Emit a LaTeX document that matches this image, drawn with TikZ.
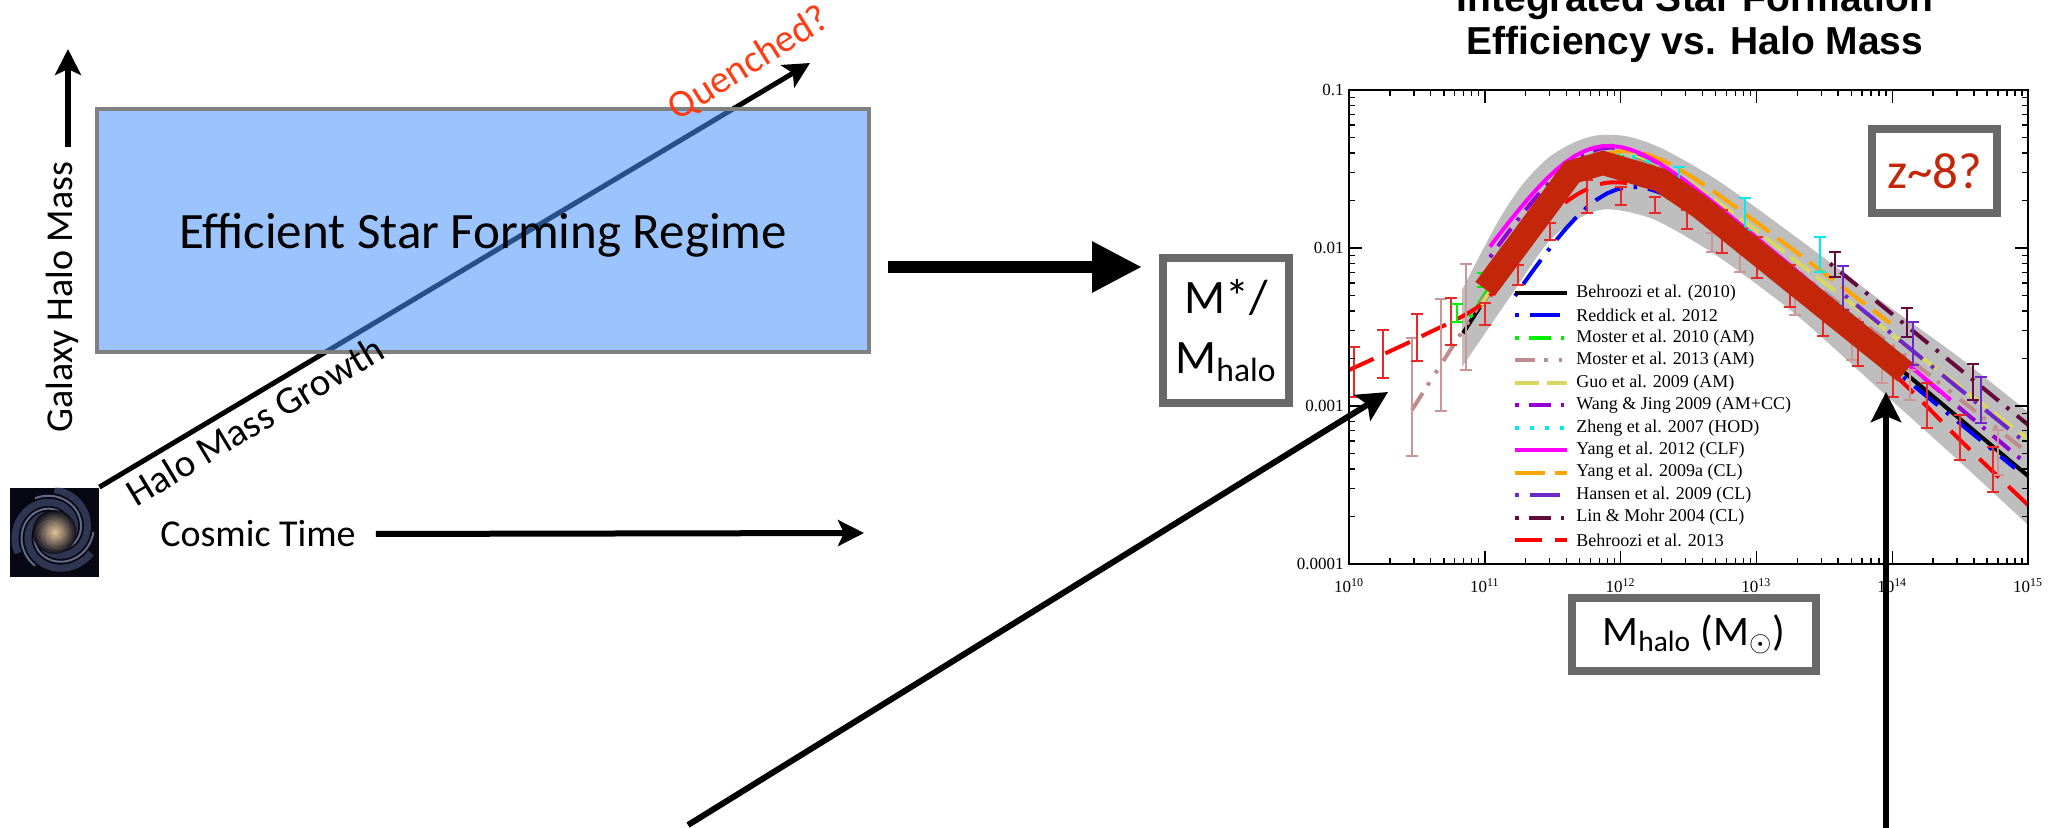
\documentclass[tikz,border=0pt]{standalone}
\usepackage{fontspec}
\setmainfont{Carlito}
\newfontfamily\titlefont{Liberation Sans}
\newfontfamily\plotfont{Liberation Serif}
\usetikzlibrary{arrows.meta}

\definecolor{regimeblue}{RGB}{73,145,250}
\definecolor{regimeedge}{RGB}{128,128,128}
\definecolor{boxgray}{RGB}{105,105,105}
\definecolor{quenchred}{RGB}{255,60,20}
\definecolor{zred}{RGB}{196,38,10}
\definecolor{bandgray}{RGB}{190,190,190}
\definecolor{spacecol}{RGB}{8,8,20}
\definecolor{corecol}{RGB}{250,215,170}
\definecolor{armcol}{RGB}{120,140,200}
\definecolor{reddcol}{RGB}{0,0,255}
\definecolor{most10col}{RGB}{0,240,0}
\definecolor{most13col}{RGB}{190,140,140}
\definecolor{guocol}{RGB}{215,215,100}
\definecolor{wangcol}{RGB}{148,0,211}
\definecolor{zhengcol}{RGB}{0,235,235}
\definecolor{yang12col}{RGB}{255,0,255}
\definecolor{yang09col}{RGB}{255,165,0}
\definecolor{hanscol}{RGB}{110,40,200}
\definecolor{lincol}{RGB}{100,10,60}
\definecolor{beh13col}{RGB}{255,0,0}
\definecolor{errred}{RGB}{235,40,40}
\definecolor{errpink}{RGB}{205,150,150}

\tikzset{
	regimebox/.style={draw=regimeedge, line width=2pt, fill=regimeblue, fill opacity=.55, text opacity=1, minimum width=386pt, minimum height=121.5pt, text depth=0pt, font=\fontsize{25.5}{30}\selectfont},
	labelbox/.style={draw=boxgray, line width=4pt, fill=white, inner sep=0pt},
	slanttext/.style={font=\fontsize{19.5}{23}\selectfont, inner sep=0pt},
	axisarrow/.style={line width=3pt, -{Stealth[length=13pt, width=13pt, inset=3pt]}},
	bigarrow/.style={line width=6pt, -{Triangle[length=25pt, width=24pt]}},
	pointer/.style={line width=3pt, -{Stealth[length=15pt, width=15pt, inset=3pt]}},
	galaxyimg/.style={minimum size=44.5pt, inner sep=0pt, fill=spacecol, path picture={
		\foreach \r in {0,120,240}
			\draw[armcol, line width=3.5pt, opacity=.35, shift={(path picture bounding box.center)}] plot[domain=0:330, samples=30, smooth] ({\r+\x}:{3pt+0.055pt*\x});
		\foreach \r in {60,180,300}
			\draw[armcol!70!white, line width=1pt, opacity=.6, shift={(path picture bounding box.center)}] plot[domain=0:300, samples=30, smooth] ({\r+\x}:{3pt+0.055pt*\x});
		\shade[inner color=corecol, outer color=spacecol, opacity=.9] (path picture bounding box.center) circle (11pt);
	}},
	curve/.style={line width=2pt},
	beh10/.style={curve, black},
	redd12/.style={curve, reddcol, dash pattern=on 1.75pt off 5.5pt on 15pt off 5.5pt},
	most10/.style={curve, most10col, dash pattern=on 1.75pt off 5pt on 11pt off 5pt},
	most13/.style={curve, most13col, dash pattern=on 10pt off 4.5pt on 1.75pt off 5.5pt on 1.75pt off 5.5pt},
	guo09/.style={curve, guocol, dash pattern=on 12pt off 4pt},
	wang09/.style={curve, wangcol, dash pattern=on 1.75pt off 5pt on 11pt off 5pt},
	zheng07/.style={curve, zhengcol, dash pattern=on 1.75pt off 5.75pt},
	yang12/.style={curve, yang12col},
	yang09/.style={curve, yang09col, dash pattern=on 15pt off 5pt},
	hans09/.style={curve, hanscol, dash pattern=on 1.75pt off 5.5pt on 15pt off 5.5pt},
	lin04/.style={curve, lincol, dash pattern=on 1.75pt off 5pt on 11pt off 5pt},
	beh13/.style={curve, beh13col, dash pattern=on 13.5pt off 6.5pt},
	errbar/.style={line width=0.7pt},
	tick/.style={line width=0.7pt},
	ticklab/.style={inner sep=1pt, font=\plotfont\fontsize{8.5}{10}\selectfont},
	legtext/.style={anchor=west, inner sep=0pt, font=\plotfont\fontsize{9}{10}\selectfont}
}

\begin{document}
\begin{tikzpicture}[x=0.5pt, y=-0.5pt, declare function={effy(\mm,\pkx,\pky,\slo,\shi)=\pky+158*log10((10^(-\slo*(\mm-\pkx)/135.8)+10^(\shi*(\mm-\pkx)/135.8))/2);}]

	\useasboundingbox (0,0) rectangle (2064,828);

	\node[galaxyimg] (galaxy) at (54.5,532) {};
	\coordinate (qtip) at (810,63);
	\draw[line width=2.5pt, -{Stealth[length=13pt, width=13pt, inset=3pt]}] (galaxy.north east) -- (qtip);
	\node[regimebox] (regime) at (483,230.5) {Efficient Star Forming Regime};
	\node[slanttext, rotate=31] (growth) at (255,421) {Halo Mass Growth};
	\node[slanttext, rotate=32, text=quenchred] (quench) at (749,64) {Quenched?};

	\node[font=\fontsize{19}{23}\selectfont, rotate=90] (massaxis) at (62,297) {Galaxy Halo Mass};
	\coordinate (massbase) at (68,147);
	\coordinate (masstip) at (68,49);
	\draw[axisarrow] (massbase) -- (masstip);

	\node[font=\fontsize{19}{23}\selectfont] (cosmic) at (258,534) {Cosmic Time};
	\coordinate (timetip) at (864,533);
	\draw[axisarrow, shorten <=6.5pt] (cosmic.east) -- (timetip);

	\node[labelbox, minimum width=63pt, minimum height=72.5pt, align=center, font=\fontsize{24}{30}\selectfont] (ratio) at (1226,330.5) {M*/\\M\textsubscript{halo}};
	\coordinate (bigy) at (0,267);
	\draw[bigarrow, shorten <=8.5pt, shorten >=8.5pt] (regime.east |- bigy) -- (ratio.west |- bigy);

	\node[font=\titlefont\bfseries\fontsize{19.5}{21.5}\selectfont, align=center, anchor=south, inner sep=0pt] (title) at (1695,63) {Integrated Star Formation\\Efficiency vs. Halo Mass};

	\fill[bandgray] plot[smooth] coordinates {(1462,290) (1480,255) (1500,218) (1522,185) (1548,158) (1575,142) (1600,135) (1630,137) (1665,150) (1720,182) (1800,240) (1880,300) (1960,358) (2028,412)}
		-- plot[smooth] coordinates {(2028,525) (1960,462) (1880,390) (1800,318) (1740,272) (1700,245) (1650,218) (1600,210) (1553,237) (1510,297) (1462,367)} -- cycle;

	\foreach \st/\p/\q/\a/\b/\lo/\hi in {beh10/1600/165/1.35/0.72/1463/2028, redd12/1615/190/1.3/0.70/1515/2015, most10/1600/160/1.35/0.72/1470/1905, most13/1600/162/1.35/0.68/1412/2028, guo09/1600/158/1.4/0.66/1480/2028, wang09/1595/150/1.25/0.72/1490/2028, zheng07/1600/158/1.3/0.70/1500/1900, yang09/1605/155/1.3/0.65/1520/1890, hans09/1620/160/1.3/0.70/1845/2028, lin04/1620/140/1.3/0.70/1830/2028, yang12/1593/148/1.2/0.72/1490/1950}
		\draw[\st] plot[domain=\lo:\hi, samples=50] (\x,{effy(\x,\p,\q,\a,\b)});
	\draw[beh13] plot[smooth] coordinates {(1349,370) (1420,337) (1483,303) (1522,250) (1562,205) (1605,183) (1660,190) (1720,225) (1800,290) (1900,380) (1960,440) (2028,505)};

	\foreach \x/\t/\b in {1412/338/456, 1441/299/411, 1466/264/370, 1712/233/252, 1740/247/272, 1795/287/315, 1852/323/360, 1882/345/383, 1910/370/400, 1998/430/475}
		\draw[errbar, errpink] (\x,\t) -- (\x,\b) ({\x-6},\t) -- ({\x+6},\t) ({\x-6},\b) -- ({\x+6},\b);
	\foreach \x/\t/\b in {1354/347/397, 1383/330/378, 1417/314/361, 1451/298/345, 1485/303/325, 1518/265/285, 1550/223/240, 1587/180/213, 1621/187/205, 1655/197/213, 1687/210/229, 1722/210/253, 1757/237/278, 1790/265/307, 1823/300/336, 1858/322/366, 1893/357/397, 1927/383/428, 1960/415/460, 1993/447/492}
		\draw[errbar, errred] (\x,\t) -- (\x,\b) ({\x-6},\t) -- ({\x+6},\t) ({\x-6},\b) -- ({\x+6},\b);
	\foreach \x/\t/\b in {1679/167/197, 1745/198/230, 1820/237/272}
		\draw[errbar, zhengcol] (\x,\t) -- (\x,\b) ({\x-6},\t) -- ({\x+6},\t) ({\x-6},\b) -- ({\x+6},\b);
	\foreach \x/\t/\b in {1457/304/322, 1483/273/287}
		\draw[errbar, most10col] (\x,\t) -- (\x,\b) ({\x-6},\t) -- ({\x+6},\t) ({\x-6},\b) -- ({\x+6},\b);
	\foreach \x/\t/\b in {1835/252/277, 1907/308/337, 1973/364/400}
		\draw[errbar, lincol] (\x,\t) -- (\x,\b) ({\x-6},\t) -- ({\x+6},\t) ({\x-6},\b) -- ({\x+6},\b);
	\foreach \x/\t/\b in {1843/266/310, 1913/322/365, 1981/377/423}
		\draw[errbar, hanscol] (\x,\t) -- (\x,\b) ({\x-6},\t) -- ({\x+6},\t) ({\x-6},\b) -- ({\x+6},\b);

	\draw[zred, line width=12pt] (1485,289) -- (1572,172) -- (1603,163) -- (1660,180) -- (1700,207) -- (1905,372);

	\foreach \st/\lab [count=\i from 0] in {beh10/Behroozi et al. (2010), redd12/Reddick et al. 2012, most10/Moster et al. 2010 (AM), most13/Moster et al. 2013 (AM), guo09/Guo et al. 2009 (AM), wang09/Wang \& Jing 2009 (AM+CC), zheng07/Zheng et al. 2007 (HOD), yang12/Yang et al. 2012 (CLF), yang09/Yang et al. 2009a (CL), hans09/Hansen et al. 2009 (CL), lin04/Lin \& Mohr 2004 (CL), beh13/Behroozi et al. 2013}{
		\draw[\st] (1515,{293+22.45*\i}) -- (1567,{293+22.45*\i});
		\node[legtext] (leg\i) at (1576,{293+22.45*\i}) {\lab};
	}

	\draw[line width=1pt] (1349,90) rectangle (2028,564);
	\foreach \d in {10,...,14}
		\foreach \m in {2,...,9}{
			\draw[tick] ({1349+(\d-10+log10(\m))*135.8},564) -- ++(0,-6);
			\draw[tick] ({1349+(\d-10+log10(\m))*135.8},90) -- ++(0,6);
		}
	\foreach \d in {10,...,15}{
		\draw[tick] ({1349+(\d-10)*135.8},564) -- ++(0,-13);
		\draw[tick] ({1349+(\d-10)*135.8},90) -- ++(0,13);
		\node[ticklab, anchor=base] (xt\d) at ({1349+(\d-10)*135.8},592) {10\textsuperscript{\d}};
	}
	\foreach \j in {2,3,4}
		\foreach \m in {2,...,9}{
			\draw[tick] (1349,{90+(\j-1-log10(\m))*158}) -- ++(6,0);
			\draw[tick] (2028,{90+(\j-1-log10(\m))*158}) -- ++(-6,0);
		}
	\foreach \v [count=\k] in {0.1,0.01,0.001,0.0001}{
		\draw[tick] (1349,{90+(\k-1)*158}) -- ++(13,0);
		\draw[tick] (2028,{90+(\k-1)*158}) -- ++(-13,0);
		\node[ticklab, anchor=east] (yt\k) at (1346,{90+(\k-1)*158}) {\v};
	}

	\node[labelbox, minimum width=62.5pt, minimum height=42pt, text=zred, font=\fontsize{25.5}{30}\selectfont] (zbox) at (1934.5,171) {z\textasciitilde8?};
	\node[labelbox, minimum width=122pt, minimum height=36.5pt, font=\fontsize{21}{25}\selectfont] (mhalo) at (1694,634.5) {M\textsubscript{halo} (M\textsubscript{$\odot$})};

	\coordinate (lowstart) at (688,825);
	\coordinate (lowtip) at (1388,392);
	\draw[pointer] (lowstart) -- (lowtip);
	\coordinate (highstart) at (1886,832);
	\coordinate (hightip) at (1886,392);
	\draw[pointer] (highstart) -- (hightip);

\end{tikzpicture}
\end{document}
